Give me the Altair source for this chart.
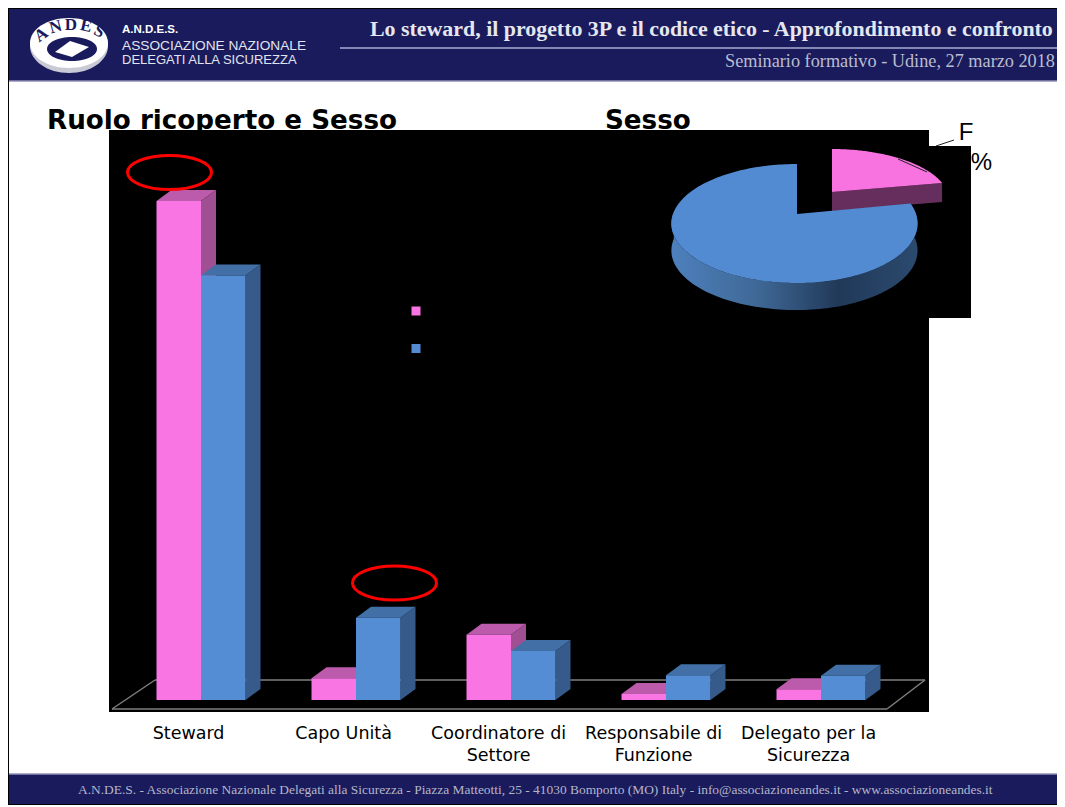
import math
import altair as alt
import pandas as pd

# ---- chart values ----
categories = ["Steward", "Capo Unità", "Coordinatore di\nSettore", "Responsabile di\nFunzione", "Delegato per la\nSicurezza"]
f_values = [82.6, 3.6, 10.8, 1.0, 1.8]
m_values = [70.3, 13.6, 8.1, 4.1, 4.0]
pie_sexes = ["F", "M"]
pie_values = [22, 78]

title_left = "Ruolo ricoperto e Sesso"
title_right = "Sesso"
header_title = "Lo steward, il progetto 3P e il codice etico - Approfondimento e confronto"
header_sub = "Seminario formativo - Udine, 27 marzo 2018"
footer_text = ("A.N.DE.S. - Associazione Nazionale Delegati alla Sicurezza - Piazza Matteotti, 25 - "
               "41030 Bomporto (MO) Italy - info@associazioneandes.it - www.associazioneandes.it")

W, H = 1049, 797
PAGE = 8
RIGHT = PAGE + W
NAVY = "#191b5c"
PINK, PINK_SIDE, PINK_TOP = "#f975e3", "#9f4f92", "#bc5bab"
BLUE, BLUE_SIDE, BLUE_TOP = "#548dd4", "#365a8a", "#426fa6"

one = alt.Data(values=[{"a": 1}])
def px(v):
    return alt.value(v - PAGE)

# ---- scales ----
STEP = 155.0            # pixels between two categories
ORIGIN = 201 - PAGE     # first category centre in the plot
PCT = 6.04              # pixels per percentage point
BASE = 700 - PAGE       # zero line in the plot
xscale = alt.Scale(domain=[-ORIGIN / STEP, (W - ORIGIN) / STEP], nice=False, zero=False)
yscale = alt.Scale(domain=[-(H - BASE) / PCT, BASE / PCT], nice=False, zero=False)
BAR = 44.5 / STEP
DX = 15 / STEP
DV = 11 / PCT

def qx(f): return alt.X(f, type="quantitative", scale=xscale, axis=None)
def qy(f): return alt.Y(f, type="quantitative", scale=yscale, axis=None, stack=None)
def qy2(f): return alt.Y2(f)

def rect(x0, y0, x1, y1, color):
    return alt.Chart(one).mark_rect(color=color, opacity=1).encode(
        x=px(x0), x2=px(x1), y=px(y0), y2=px(y1))

def rule(x0, y0, x1, y1, color, width=1.0):
    return alt.Chart(one).mark_rule(color=color, strokeWidth=width).encode(
        x=px(x0), x2=px(x1), y=px(y0), y2=px(y1))

def label(x, y, text, size, color="black", font="DejaVu Sans", weight="normal", align="left", angle=0, **kw):
    return alt.Chart(one).mark_text(text=text, fontSize=size, color=color, font=font, fontWeight=weight,
                                    align=align, baseline="alphabetic", angle=angle, **kw).encode(
        x=px(x), y=px(y))

def shape(x, y, path, fill=None, stroke=None, width=0):
    kw = {"shape": path, "size": 4, "opacity": 1, "strokeWidth": width}
    if fill is not None:
        kw.update(filled=True, fill=fill)
    else:
        kw.update(filled=False, fill="transparent")
    if stroke is not None:
        kw.update(stroke=stroke)
    else:
        kw.update(stroke="transparent")
    return alt.Chart(one).mark_point(**kw).encode(x=px(x), y=px(y))

def ellipse_path(rx, ry):
    return f"M{-rx},0A{rx},{ry},0,1,1,{rx},0A{rx},{ry},0,1,1,{-rx},0Z"

# ---- pie geometry, driven by the pie values ----
PX, PY = 797, 214       # apex of the pie
K, B = 0.16, 58.0
def rim(deg, sx=1.0, sy=1.0):
    a = math.radians(deg)
    s = 1 / (1 + K * math.cos(a))
    A = 119 if math.sin(a) >= 0 else 124
    return (A * math.sin(a) * s * sx, -B * math.cos(a) * s * sy)

def poly(points):
    return "M" + "L".join(f"{x:.2f},{y:.2f}" for x, y in points) + "Z"

def sweep(a0, a1, n=90, sx=1.0, sy=1.0):
    return [rim(a0 + (a1 - a0) * i / n, sx, sy) for i in range(n + 1)]

f_angle = 360 * pie_values[0] / sum(pie_values)
BLUE_D = 27
PINK_D = 19
pink_rim = sweep(0, f_angle, sx=0.97, sy=0.86)
pink_top = poly([(0, 0)] + pink_rim)
end = pink_rim[-1]
pink_wall = poly([(0, 0), end, (end[0], end[1] + PINK_D), (0, PINK_D)])
blue_top = poly([(0, 0)] + sweep(f_angle, 360, n=180))
front = sweep(f_angle, 272, n=120)
blue_wall = poly(front + [(x, y + BLUE_D) for x, y in reversed(front)])
wall_grad = alt.Gradient(gradient="linear", x1=0, x2=1, y1=0, y2=0, stops=[
    alt.GradientStop(offset=0, color="#4d80bd"),
    alt.GradientStop(offset=0.35, color="#3f6896"),
    alt.GradientStop(offset=0.68, color="#213959"),
    alt.GradientStop(offset=1, color="#2b4a6e"),
])
PINK_X, PINK_Y = 832, 192

# ---- bar faces, driven by the series values ----
def front_rows(values, sex, off):
    return pd.DataFrame([{"x": i + off, "x2": i + off + BAR, "v": v, "zero": 0, "sex": sex}
                         for i, v in enumerate(values)])

def side_rows(values, off):
    rows = []
    for i, v in enumerate(values):
        r = i + off + BAR
        rows += [{"c": i, "x": r, "y": v, "y2": 0}, {"c": i, "x": r + DX, "y": v + DV, "y2": DV}]
    return pd.DataFrame(rows)

def top_rows(values, off):
    rows = []
    for i, v in enumerate(values):
        l = i + off
        r = l + BAR
        rows += [{"c": i, "x": l, "y": v, "y2": v},
                 {"c": i, "x": l + DX, "y": v + DV, "y2": v},
                 {"c": i, "x": r, "y": v + DV, "y2": v},
                 {"c": i, "x": r + DX, "y": v + DV, "y2": v + DV}]
    return pd.DataFrame(rows)

color = alt.Color("sex:N", scale=alt.Scale(domain=pie_sexes, range=[PINK, BLUE]),
                  legend=alt.Legend(orient="none", legendX=401, legendY=296, title=None, symbolType="square",
                                    symbolSize=81, symbolOpacity=1, symbolStrokeWidth=0, labelColor="black",
                                    labelFontSize=14, rowPadding=23.5, zindex=1))

def face(df, fill):
    return alt.Chart(df).mark_area(color=fill, opacity=1, interpolate="linear").encode(
        x=qx("x"), y=qy("y"), y2=qy2("y2"), detail="c:N")

def series(values, sex, off, main, side, top):
    return [
        face(side_rows(values, off), side),
        face(top_rows(values, off), top),
        alt.Chart(front_rows(values, sex, off)).mark_rect(opacity=1).encode(
            x=qx("x"), x2=alt.X2("x2"), y=qy("v"), y2=qy2("zero"), color=color),
    ]

labels_df = pd.DataFrame({"x": [i - 0.08 for i in range(len(categories))], "t": categories})
cat_labels = alt.Chart(labels_df).mark_text(fontSize=17.5, font="DejaVu Sans", color="black", lineBreak="\n",
                                            lineHeight=22, baseline="top", align="center").encode(
    x=qx("x"), y=px(725), text="t:N")

E_TXT = dict(color=NAVY, font="Liberation Serif", weight="bold")
layers = [
    # header and footer
    rect(8, 8, RIGHT, 81, NAVY),
    rule(8, 81, RIGHT, 81, "#8f90b8", 1.5),
    rect(8, 8, RIGHT, 9, "black"),
    rule(340, 48, RIGHT, 48, "#8587b4", 2),
    label(370, 36, header_title, 21.9, color="#e6e6ee", font="Liberation Serif", weight="bold"),
    label(1055, 67, header_sub, 18.25, color="#bcbdd0", font="Liberation Serif", align="right"),
    # logo
    shape(69, 46, ellipse_path(39, 27), fill="#c9cad6"),
    shape(69, 43, ellipse_path(39, 25), fill="white"),
    shape(72, 49, ellipse_path(25, 12), fill=NAVY),
    shape(72, 49, poly([(-17, 3), (-2, -8), (17, -2), (0, 8)]), fill="white"),
    label(44, 39, "A", 17, angle=325, align="center", **E_TXT),
    label(57, 32, "N", 17, angle=345, align="center", **E_TXT),
    label(71, 30, "D", 17, align="center", **E_TXT),
    label(85, 31, "E", 17, angle=12, align="center", **E_TXT),
    label(97, 36, "S", 17, angle=25, align="center", **E_TXT),
    label(122, 33, "A.N.D.E.S.", 11.5, color="white", font="Liberation Sans", weight="bold"),
    label(122, 50, "ASSOCIAZIONE NAZIONALE", 13.7, color="#e4e4ee", font="Liberation Sans"),
    label(122, 64, "DELEGATI ALLA SICUREZZA", 13, color="#e4e4ee", font="Liberation Sans"),
    rect(8, 774, RIGHT, 804, NAVY),
    rule(8, 774, RIGHT, 774, "#8f90b8", 1.5),
    rect(8, 804, RIGHT, 805, "black"),
    rect(8, 8, 9, 805, "black"),
    label(78, 794, footer_text, 13.43, color="#b5b6ca", font="Liberation Serif"),
    # slide titles, partly hidden by the black chart area
    label(47, 129, title_left, 26.2, font="DejaVu Sans", weight="bold"),
    label(605, 129, title_right, 26.2, font="DejaVu Sans", weight="bold"),
    # pie data label behind the black area
    label(966, 140, pie_sexes[0], 24, font="Liberation Sans", align="center"),
    label(968, 170, f"{pie_values[0]}%", 24, font="Liberation Sans", align="center"),
    rule(936, 146, 954, 140, "#222222", 1),
    # black chart areas
    rect(109, 130, 929, 712, "black"),
    rect(929, 146, 971, 318, "black"),
    # floor
    rule(112, 709, 155, 680, "#7f7f7f", 1.5),
    rule(155, 680, 925, 680, "#7f7f7f", 1.5),
    rule(925, 680, 887, 709, "#7f7f7f", 1.5),
    rule(887, 709, 112, 709, "#7f7f7f", 1.5),
    # pie
    shape(PINK_X, PINK_Y, pink_wall, fill="#662e5c"),
    shape(PINK_X, PINK_Y, pink_top, fill="#f872e0"),
    rule(898, 159, 927, 172, "#222222", 1),
    shape(PX, PY, blue_wall, fill=wall_grad),
    shape(PX, PY, blue_top, fill="#528bd2"),
    # bars
    *series(f_values, "F", -BAR, PINK, PINK_SIDE, PINK_TOP),
    *series(m_values, "M", 0, BLUE, BLUE_SIDE, BLUE_TOP),
    # category labels
    cat_labels,
    # highlights
    shape(169.5, 172.5, ellipse_path(42, 17), stroke="#ff0000", width=3),
    shape(394.5, 583, ellipse_path(42, 17), stroke="#ff0000", width=3),
]

chart = alt.layer(*layers).properties(
    width=W, height=H, padding=0, autosize=alt.AutoSizeParams(type="none"),
    background="white",
).configure_view(stroke=None)

chart.save("out.html", embed_options={"renderer": "svg", "actions": False})
